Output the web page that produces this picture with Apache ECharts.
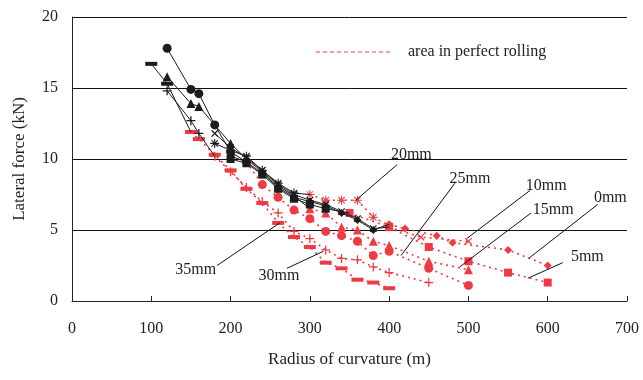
<!DOCTYPE html>
<html>
<head>
<meta charset="utf-8">
<script src="https://cdn.jsdelivr.net/npm/echarts@6/dist/echarts.min.js"></script>
<style>
  html, body { margin: 0; padding: 0; background: #fff; }
  #main { width: 643px; height: 380px; }
</style>
</head>
<body>
<div id="main"></div>
<script>
// clearances
const clearances = ['0mm', '5mm', '10mm', '15mm', '20mm', '25mm', '30mm', '35mm'];

// black part (before perfect rolling), [radius, force]
const black0 = [[200, 10.2], [220, 9.8], [240, 9.0], [260, 8.0], [280, 7.3], [300, 7.0], [320, 6.7], [340, 6.2], [360, 5.7], [380, 5.0]];
const black5 = [[200, 10.0], [220, 9.7], [240, 8.9], [260, 7.9], [280, 7.2], [300, 6.8], [320, 6.5]];
const black10 = [[180, 11.8], [200, 10.8], [220, 10.1], [240, 9.2], [260, 8.2], [280, 7.5], [300, 7.1], [320, 6.8], [340, 6.3], [360, 5.8], [380, 5.1]];
const black15 = [[120, 15.8], [150, 13.9], [160, 13.7], [200, 11.1], [220, 10.0], [240, 9.1], [260, 8.1], [280, 7.4]];
const black20 = [[180, 11.1], [200, 10.6], [220, 10.2], [240, 9.2], [260, 8.3], [280, 7.6]];
const black25 = [[120, 17.8], [150, 14.9], [160, 14.6], [180, 12.4], [200, 10.5]];
const black30 = [[120, 14.8], [150, 12.7], [160, 11.8]];
const black35 = [[100, 16.7], [120, 15.3]];

// red part (area in perfect rolling)
const red0 = [[400, 5.4], [420, 5.1], [460, 4.6], [480, 4.1], [550, 3.6], [600, 2.5]];
const red5 = [[350, 6.2], [400, 5.2], [450, 3.8], [500, 2.8], [550, 2.0], [600, 1.3]];
const red10 = [[400, 5.2], [440, 4.5], [500, 4.2]];
const red15 = [[300, 6.5], [320, 6.2], [340, 5.2], [360, 5.0], [380, 4.2], [400, 3.9], [450, 2.8], [500, 2.2]];
const red20 = [[300, 7.5], [320, 7.1], [340, 7.1], [360, 7.1], [380, 5.9], [400, 5.3]];
const red25 = [[220, 9.8], [240, 8.2], [260, 7.3], [280, 6.4], [300, 5.8], [320, 4.9], [340, 4.6], [360, 4.2], [380, 3.2], [400, 3.5], [450, 2.3], [500, 1.1]];
const red30 = [[180, 10.2], [200, 9.1], [220, 8.0], [240, 7.0], [260, 6.2], [280, 4.9], [300, 4.4], [320, 3.6], [340, 3.0], [360, 2.9], [380, 2.4], [400, 2.0], [450, 1.3]];
const red35 = [[150, 11.9], [160, 11.4], [180, 10.3], [200, 9.2], [220, 7.9], [240, 6.9], [260, 5.5], [280, 4.5], [300, 3.8], [320, 2.7], [340, 2.3], [360, 1.5], [380, 1.3], [400, 0.9]];

const xTicks = [0, 100, 200, 300, 400, 500, 600, 700];
const yTicks = [0, 5, 10, 15, 20];

// labels: [text, textX, textY, lineFromX, lineFromY, lineToX, lineToY]
const notes = [
  ['20mm', 428, 10.3, 410, 9.6, 358, 7.1],
  ['25mm', 502, 8.6, 483, 8.3, 415, 3.2],
  ['10mm', 598, 8.1, 578, 7.8, 498, 4.4],
  ['15mm', 607, 6.4, 579, 6.2, 489, 2.4],
  ['0mm', 679, 7.3, 663, 6.8, 576, 3.0],
  ['5mm', 650, 3.1, 619, 2.7, 575, 1.6],
  ['35mm', 156, 2.2, 183, 2.5, 262, 5.5],
  ['30mm', 261, 1.8, 271, 2.3, 317, 3.5]
];

const blackParts = [black0, black5, black10, black15, black20, black25, black30, black35];
const redParts = [red0, red5, red10, red15, red20, red25, red30, red35];

const PLUS = 'path://M4.3,0H5.7V10H4.3Z';
const PLUS2 = 'path://M4.3,0H5.7V4.3H10V5.7H5.7V10H4.3V5.7H0V4.3H4.3Z';
const STAR = 'path://M4.4,0H5.6V10H4.4Z M0,4.4H10V5.6H0Z M1,1.8L1.8,1L9,8.2L8.2,9Z M1,8.2L8.2,1L9,1.8L1.8,9Z';
const DASH = 'path://M0,0H10V4H0Z';

const marks = [
  { symbol: 'diamond', size: 8, rot: 0 },
  { symbol: 'rect', size: 8, rot: 0 },
  { symbol: PLUS2, size: 9, rot: 45 },
  { symbol: 'triangle', size: 9, rot: 0 },
  { symbol: STAR, size: 9, rot: 0 },
  { symbol: 'circle', size: 9, rot: 0 },
  { symbol: PLUS2, size: 9, rot: 0 },
  { symbol: DASH, size: [12, 4], rot: 0 }
];

const RED = '#ee3b43';
const BLACK = '#1c1c1c';
const FONT = 'Liberation Serif';

let series = [];
clearances.forEach(function (c, i) {
  let m = marks[i];
  let bdata = blackParts[i].map(function (p) { return p; });
  // black line runs on to the first red point
  bdata.push({ value: redParts[i][0], symbol: 'none' });
  series.push({
    name: c + ' black',
    type: 'line',
    data: bdata,
    symbol: m.symbol,
    symbolSize: m.size,
    symbolRotate: m.rot,
    lineStyle: { color: BLACK, width: 1 },
    itemStyle: { color: BLACK },
    animation: false,
    z: 3
  });
  series.push({
    name: c + ' red',
    type: 'line',
    data: redParts[i],
    symbol: m.symbol,
    symbolSize: m.size,
    symbolRotate: m.rot,
    lineStyle: { color: RED, width: 1.6, type: [2, 4] },
    itemStyle: { color: RED },
    animation: false,
    z: 2
  });
});

let myChart = echarts.init(document.getElementById('main'));
myChart.setOption({
  backgroundColor: '#fff',
  animation: false,
  grid: { left: 72, right: 16, top: 17, bottom: 79 },
  xAxis: {
    type: 'value',
    min: xTicks[0],
    max: xTicks[xTicks.length - 1],
    interval: 100,
    name: 'Radius of curvature (m)',
    nameLocation: 'middle',
    nameGap: 50,
    nameTextStyle: { fontFamily: FONT, fontSize: 17, color: '#222' },
    axisLine: { lineStyle: { color: '#222', width: 1 } },
    axisTick: { inside: true, length: 5, lineStyle: { color: '#222' } },
    axisLabel: { fontFamily: FONT, fontSize: 16, color: '#222', margin: 20 },
    splitLine: { show: false }
  },
  yAxis: {
    type: 'value',
    min: yTicks[0],
    max: yTicks[yTicks.length - 1],
    interval: 5,
    name: 'Lateral force (kN)',
    nameLocation: 'middle',
    nameGap: 44,
    nameTextStyle: { fontFamily: FONT, fontSize: 17, color: '#222' },
    axisLine: { show: true, lineStyle: { color: '#222', width: 1 } },
    axisTick: { show: false },
    axisLabel: { fontFamily: FONT, fontSize: 16, color: '#222', margin: 14 },
    splitLine: { show: true, lineStyle: { color: '#111', width: 1 } }
  },
  series: series
});

// annotations and key, placed from data coordinates
let graphics = [];
notes.forEach(function (n) {
  let t = myChart.convertToPixel({ gridIndex: 0 }, [n[1], n[2]]);
  let a = myChart.convertToPixel({ gridIndex: 0 }, [n[3], n[4]]);
  let b = myChart.convertToPixel({ gridIndex: 0 }, [n[5], n[6]]);
  graphics.push({
    type: 'line',
    shape: { x1: a[0], y1: a[1], x2: b[0], y2: b[1] },
    style: { stroke: '#111', lineWidth: 1 },
    z: 10
  });
  graphics.push({
    type: 'text',
    x: t[0], y: t[1],
    style: { text: n[0], font: '16px "Liberation Serif"', fill: '#222', align: 'center', verticalAlign: 'middle' },
    z: 10
  });
});
graphics.push({
  type: 'line',
  shape: { x1: 316, y1: 52, x2: 393, y2: 52 },
  style: { stroke: RED, lineWidth: 1, lineDash: [4, 3] }
});
graphics.push({
  type: 'text',
  x: 408, y: 52,
  style: { text: 'area in perfect rolling', font: '16px "Liberation Serif"', fill: '#222', align: 'left', verticalAlign: 'middle' }
});
myChart.setOption({ graphic: graphics });
</script>
</body>
</html>
